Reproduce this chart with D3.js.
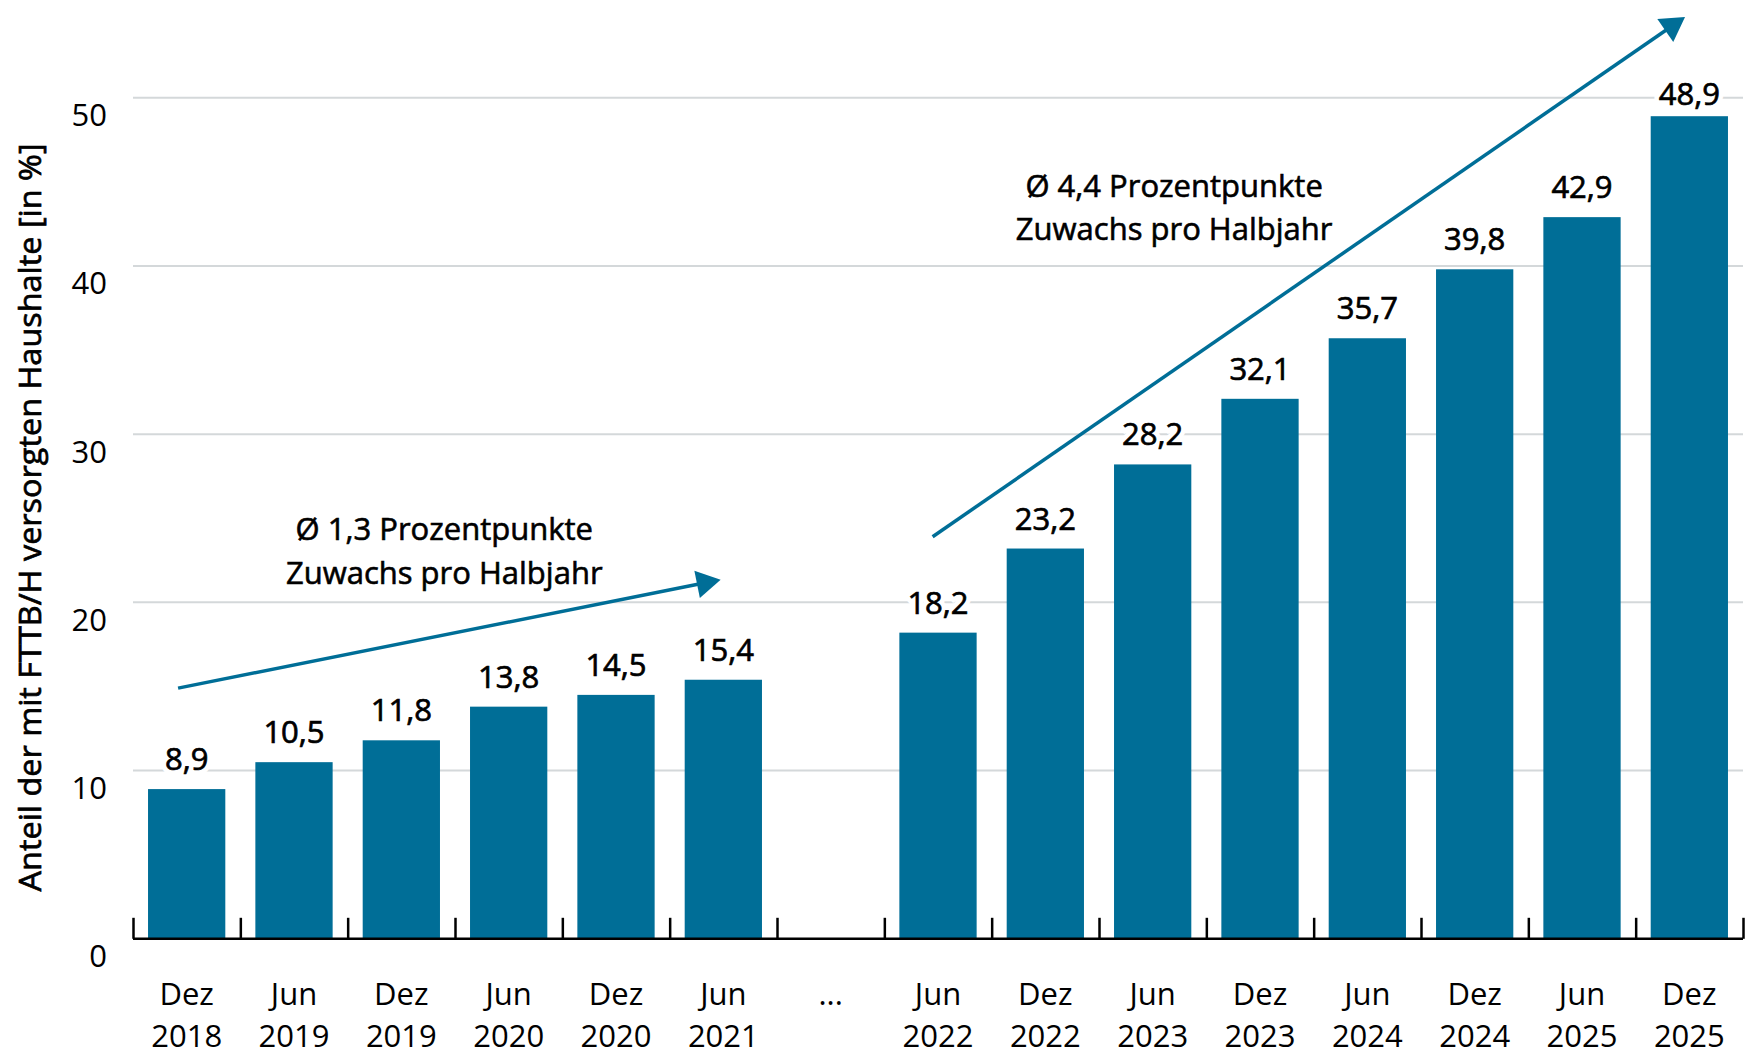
<!DOCTYPE html>
<html>
<head>
<meta charset="utf-8">
<script src="https://cdn.jsdelivr.net/npm/d3@7"></script>
<style>
  html, body { margin: 0; padding: 0; background: #fff; }
  svg { display: block; font-family: "Open Sans", "Noto Sans", sans-serif; }
</style>
</head>
<body>
<svg id="chart" width="1749" height="1055"></svg>
<script>
// ---------- data ----------
const categories = ["Dez 2018","Jun 2019","Dez 2019","Jun 2020","Dez 2020","Jun 2021","...",
                    "Jun 2022","Dez 2022","Jun 2023","Dez 2023","Jun 2024","Dez 2024","Jun 2025","Dez 2025"];
const values = [8.9, 10.5, 11.8, 13.8, 14.5, 15.4, null, 18.2, 23.2, 28.2, 32.1, 35.7, 39.8, 42.9, 48.9];
const yTicks = [0, 10, 20, 30, 40, 50];
const yTitle = "Anteil der mit FTTB/H versorgten Haushalte [in %]";
// annotations: position in band units (0 = left edge of axis), value in %
const arrowStarts = [{pos: 0.42, value: 14.9}, {pos: 7.45, value: 23.9}];
const arrowEnds   = [{pos: 5.475, value: 21.35}, {pos: 14.46, value: 54.8}];
const noteLines = [["Ø 1,3 Prozentpunkte", "Zuwachs pro Halbjahr"],
                   ["Ø 4,4 Prozentpunkte", "Zuwachs pro Halbjahr"]];
const notePos = [{pos: 2.9, value: 23.7}, {pos: 9.7, value: 44.1}];

// ---------- layout ----------
const svg = d3.select("#chart");
const left = 133, right = 1743, base = 938.8, top50 = 97.7;
const barColor = "#006e97";
const fontSize = 31;

const x = d3.scaleBand().domain(categories).range([left, right]).paddingInner(0.28).paddingOuter(0.14);
const edge = d3.scaleLinear().domain([0, categories.length]).range([left, right]);
const y = d3.scaleLinear().domain([0, 50]).range([base, top50]);

const loc = d3.formatLocale({decimal: ",", thousands: ".", grouping: [3], currency: ["", "€"]});
const fmt = loc.format(".1f");

// gridlines
svg.append("g").selectAll("line").data(yTicks.filter(d => d > 0)).join("line")
  .attr("x1", left).attr("x2", right)
  .attr("y1", d => y(d)).attr("y2", d => y(d))
  .attr("stroke", "#d4d8da").attr("stroke-width", 2);

// y tick labels
const yAxis = svg.append("g").attr("transform", `translate(${107},0)`)
  .call(d3.axisLeft(y).tickValues(yTicks).tickSize(0).tickPadding(0).tickFormat(d3.format("d")));
yAxis.select(".domain").remove();
yAxis.selectAll("text").attr("font-size", fontSize).attr("font-family", "Open Sans")
  .attr("fill", "#000").attr("dy", 28).attr("x", 0);

// y title
svg.append("text")
  .attr("transform", `translate(${41},${517.5}) rotate(-90)`)
  .attr("text-anchor", "middle")
  .attr("font-size", fontSize)
  .attr("textLength", 748).attr("lengthAdjust", "spacingAndGlyphs")
  .attr("fill", "#000").attr("stroke", "#000").attr("stroke-width", 0.7)
  .text(yTitle);

// bars
const data = categories.map((c, i) => ({c, v: values[i]})).filter(d => d.v !== null);
svg.append("g").selectAll("rect").data(data).join("rect")
  .attr("x", d => x(d.c)).attr("width", x.bandwidth())
  .attr("y", d => y(d.v)).attr("height", d => base - y(d.v))
  .attr("fill", barColor);

// value labels: white halo layer, then text layer
const labelX = d => x(d.c) + x.bandwidth() / 2;
const labelY = d => Math.max(y(d.v) - 19, 105);
svg.append("g").selectAll("text").data(data).join("text")
  .attr("x", labelX).attr("y", labelY)
  .attr("text-anchor", "middle").attr("font-size", fontSize)
  .attr("fill", "#fff").attr("stroke", "#fff").attr("stroke-width", 10)
  .text(d => fmt(d.v));
svg.append("g").selectAll("text").data(data).join("text")
  .attr("x", labelX).attr("y", labelY)
  .attr("text-anchor", "middle").attr("font-size", fontSize)
  .attr("fill", "#000").attr("stroke", "#000").attr("stroke-width", 0.7)
  .text(d => fmt(d.v));

// x axis with ticks at band edges
const xAxis = svg.append("g").attr("transform", `translate(0,${base})`)
  .call(d3.axisBottom(edge).tickValues(d3.range(categories.length + 1)).tickSize(-21).tickSizeOuter(0).tickFormat(""));
xAxis.selectAll("line, path").attr("stroke", "#000").attr("stroke-width", 2.5);
xAxis.select(".domain").attr("d", `M${left},0H${right}`);

// x labels (two lines)
const xl = svg.append("g").selectAll("text").data(categories).join("text")
  .attr("x", d => x(d) + x.bandwidth() / 2)
  .attr("y", 1005)
  .attr("text-anchor", "middle")
  .attr("font-size", fontSize)
  .attr("fill", "#000");
xl.each(function(d) {
  const parts = d.split(" ");
  const t = d3.select(this);
  parts.forEach((p, i) => {
    t.append("tspan").attr("x", x(d) + x.bandwidth() / 2).attr("dy", i === 0 ? 0 : 42).text(p);
  });
});

// arrows
const px = p => edge(p.pos), py = p => y(p.value);
arrowStarts.forEach((s, i) => {
  const e = arrowEnds[i];
  const x0 = px(s), y0 = py(s), x1 = px(e), y1 = py(e);
  const ang = Math.atan2(y1 - y0, x1 - x0);
  const L = 24, W = 14;
  const bx = x1 - L * Math.cos(ang), by = y1 - L * Math.sin(ang);
  svg.append("line").attr("x1", x0).attr("y1", y0).attr("x2", bx + 2 * Math.cos(ang)).attr("y2", by + 2 * Math.sin(ang))
    .attr("stroke", barColor).attr("stroke-width", 3.5);
  const nx = -Math.sin(ang), ny = Math.cos(ang);
  svg.append("path")
    .attr("d", `M${x1},${y1}L${bx + W * nx},${by + W * ny}L${bx - W * nx},${by - W * ny}Z`)
    .attr("fill", barColor);
});

// notes
noteLines.forEach((lines, i) => {
  const t = svg.append("text")
    .attr("x", px(notePos[i])).attr("y", py(notePos[i]))
    .attr("text-anchor", "middle").attr("font-size", fontSize)
    .attr("fill", "#000").attr("stroke", "#000").attr("stroke-width", 0.6);
  lines.forEach((l, j) => t.append("tspan").attr("x", px(notePos[i])).attr("dy", j === 0 ? 0 : 43.5).text(l));
});
</script>
</body>
</html>
